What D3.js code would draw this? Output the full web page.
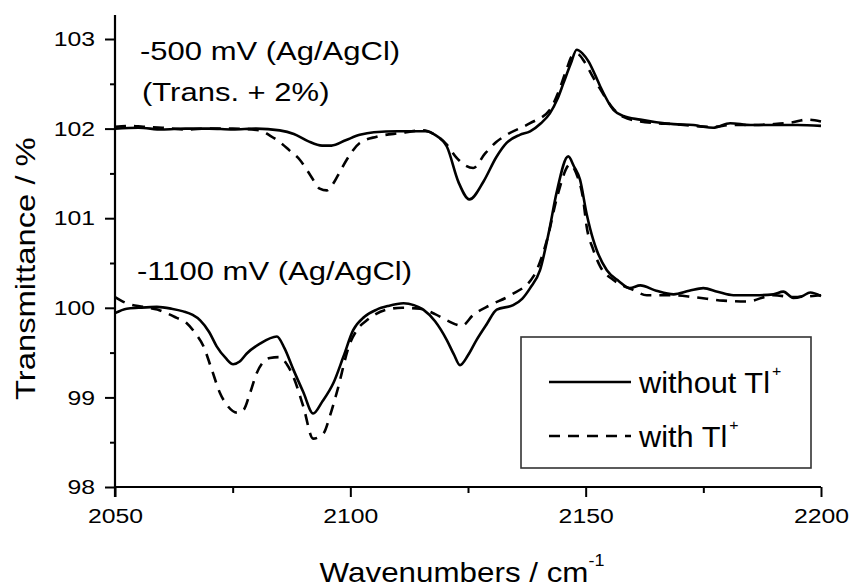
<!DOCTYPE html>
<html>
<head>
<meta charset="utf-8">
<script src="https://cdn.jsdelivr.net/npm/d3@7"></script>
<style>
  html, body { margin: 0; padding: 0; background: #fff; }
  svg { display: block; }
  text { font-family: "Liberation Sans", Arial, sans-serif; fill: #000; }
</style>
</head>
<body>
<svg id="chart" width="851" height="587"></svg>
<script>
// ---- Data ----
const xTicks = [2050, 2100, 2150, 2200];
const xMinorTicks = [2075, 2125, 2175];
const yTicks = [98, 99, 100, 101, 102, 103];
const yMinorTicks = [98.5, 99.5, 100.5, 101.5, 102.5];

// -500 mV (Trans. + 2%), without Tl+
const topSolidWn = [2050,2055,2060,2065,2070,2075,2080,2085,2088,2091,2094,2096,2099,2102,2105,2110,2116,2118,2120.5,2123,2125.3,2128.3,2131,2133.2,2136,2138.2,2140.5,2142.4,2144,2145.3,2146.8,2148.1,2149.3,2150.6,2152,2153.1,2155.9,2158,2161.6,2165,2168.7,2172.9,2175,2177.1,2180.7,2185,2189.9,2195,2200];
const topSolidT = [102.00,102.01,101.99,102.00,102.00,101.99,102.00,101.98,101.94,101.86,101.81,101.81,101.87,101.93,101.96,101.97,101.97,101.93,101.80,101.40,101.21,101.41,101.68,101.84,101.93,101.97,102.06,102.17,102.33,102.51,102.72,102.88,102.84,102.75,102.60,102.47,102.21,102.14,102.10,102.07,102.05,102.04,102.02,102.01,102.06,102.04,102.04,102.04,102.03];

// -500 mV (Trans. + 2%), with Tl+
const topDashedWn = [2050,2053,2056,2060,2065,2070,2075,2080.8,2083,2085,2087,2089.3,2091.5,2093.5,2095,2096.4,2097.8,2099.2,2102,2105.6,2110.6,2115.5,2118,2120.5,2122.5,2124.4,2126.1,2128.6,2131,2133.2,2138.2,2142.4,2144.3,2145.8,2147.3,2148.3,2149.8,2151.5,2153.1,2155.9,2158,2161.6,2165,2168.7,2173,2177,2181,2185,2190,2194,2197,2200];
const topDashedT = [102.02,102.03,102.02,102.01,101.99,102.00,102.00,101.98,101.92,101.85,101.76,101.65,101.48,101.33,101.31,101.39,101.52,101.65,101.84,101.91,101.95,101.98,101.93,101.82,101.68,101.59,101.56,101.72,101.85,101.93,102.06,102.21,102.42,102.64,102.82,102.83,102.74,102.58,102.44,102.22,102.13,102.08,102.06,102.05,102.03,102.02,102.04,102.04,102.05,102.07,102.10,102.08];

// -1100 mV, without Tl+
const botSolidWn = [2050,2052.5,2055,2058.9,2062,2064.5,2066.5,2068.1,2070,2071.6,2073.5,2075.1,2076.5,2078,2080.8,2084.4,2086,2087.9,2090,2092.1,2094,2096.4,2098.5,2100.6,2103,2105.6,2108,2111.3,2113.5,2115.5,2118,2120.5,2122,2123.3,2125,2126.8,2129,2131.1,2134.6,2136.5,2138.2,2140.3,2142.2,2143.8,2146.3,2147.5,2148.8,2150.2,2151.6,2152.3,2154.5,2157,2159.4,2161.6,2165,2168.7,2172,2175,2178,2181.4,2186,2189.9,2192,2194.1,2196,2197.7,2200];
const botSolidT = [99.94,99.99,100.00,100.01,99.99,99.96,99.92,99.86,99.73,99.57,99.44,99.37,99.40,99.49,99.60,99.68,99.55,99.31,99.06,98.82,98.95,99.16,99.45,99.75,99.90,99.98,100.02,100.05,100.03,99.98,99.85,99.64,99.48,99.36,99.47,99.64,99.82,99.98,100.03,100.10,100.22,100.42,100.85,101.28,101.69,101.58,101.43,101.05,100.76,100.65,100.42,100.30,100.22,100.25,100.19,100.15,100.19,100.22,100.18,100.14,100.14,100.15,100.18,100.11,100.13,100.17,100.13];

// -1100 mV, with Tl+
const botDashedWn = [2050,2052.5,2056,2059,2061,2063,2065.2,2067,2068.8,2070.5,2072.3,2074,2075.9,2077.3,2078.7,2080.1,2082.9,2085,2086.5,2087.9,2090,2092.1,2094.3,2095.7,2097.1,2099.9,2101.5,2103.5,2107.7,2111,2114.8,2118,2120.5,2123.7,2126.1,2129.7,2134,2138.9,2141.8,2144,2146.7,2148,2149.5,2150.2,2151.6,2153.1,2155.9,2160.1,2163,2168,2172.9,2179.2,2184.2,2189.9,2194,2200];
const botDashedT = [100.12,100.05,100.01,99.98,99.94,99.89,99.83,99.72,99.57,99.32,99.05,98.90,98.83,98.86,99.05,99.27,99.44,99.45,99.37,99.23,98.90,98.54,98.60,98.80,99.05,99.60,99.76,99.86,99.98,100.00,99.99,99.93,99.86,99.80,99.92,100.03,100.14,100.35,100.76,101.25,101.60,101.50,101.20,100.91,100.65,100.46,100.31,100.20,100.14,100.14,100.12,100.08,100.07,100.14,100.12,100.14];

const legendLabels = ["without Tl", "with Tl"];

// ---- Layout ----
const svg = d3.select("#chart");
const x = d3.scaleLinear().domain([2050, 2200]).range([115, 821]);
const y = d3.scaleLinear().domain([98, 103]).range([487, 39]);
const yTop = y.invert(15);

const FONT = '"Liberation Sans", Arial, sans-serif';
const TICK_SX = 1.18;

// X axis
const xAxis = d3.axisBottom(x).tickValues(xTicks).tickSize(10).tickSizeOuter(0).tickPadding(11)
  .tickFormat(d3.format("d"));
const gx = svg.append("g").attr("transform", `translate(0,${y(98)})`).call(xAxis);
gx.select(".domain").remove();
gx.selectAll(".tick line").attr("stroke", "#000").attr("stroke-width", 2);
gx.selectAll("text").attr("font-size", 21).attr("font-family", FONT)
  .attr("transform", `scale(${TICK_SX},1)`);

const gxm = svg.append("g").attr("transform", `translate(0,${y(98)})`)
  .call(d3.axisBottom(x).tickValues(xMinorTicks).tickSize(6).tickFormat(""));
gxm.select(".domain").remove();
gxm.selectAll(".tick line").attr("stroke", "#000").attr("stroke-width", 2);

svg.append("line").attr("x1", x(2050)).attr("x2", x(2200)).attr("y1", y(98)).attr("y2", y(98))
  .attr("stroke", "#000").attr("stroke-width", 2.2);

// Y axis
const yAxis = d3.axisLeft(y).tickValues(yTicks).tickSize(10).tickSizeOuter(0).tickPadding(10)
  .tickFormat(d3.format("d"));
const gy = svg.append("g").attr("transform", `translate(${x(2050)},0)`).call(yAxis);
gy.select(".domain").remove();
gy.selectAll(".tick line").attr("stroke", "#000").attr("stroke-width", 2);
gy.selectAll("text").attr("font-size", 21).attr("font-family", FONT)
  .attr("x", -20 / TICK_SX).attr("transform", `scale(${TICK_SX},1)`);

const gym = svg.append("g").attr("transform", `translate(${x(2050)},0)`)
  .call(d3.axisLeft(y).tickValues(yMinorTicks).tickSize(5).tickFormat(""));
gym.select(".domain").remove();
gym.selectAll(".tick line").attr("stroke", "#000").attr("stroke-width", 2);

svg.append("line").attr("x1", x(2050)).attr("x2", x(2050)).attr("y1", y(yTop)).attr("y2", y(98) + 10)
  .attr("stroke", "#000").attr("stroke-width", 2.2);

// Spectra
const line = d3.line().x(d => x(d[0])).y(d => y(d[1])).curve(d3.curveMonotoneX);
const series = [
  { wn: topSolidWn, t: topSolidT, dash: null },
  { wn: topDashedWn, t: topDashedT, dash: "11,8" },
  { wn: botSolidWn, t: botSolidT, dash: null },
  { wn: botDashedWn, t: botDashedT, dash: "11,8" }
];
series.forEach(s => {
  svg.append("path")
    .datum(s.wn.map((w, i) => [w, s.t[i]]))
    .attr("d", line)
    .attr("fill", "none")
    .attr("stroke", "#000")
    .attr("stroke-width", 2.6)
    .attr("stroke-linejoin", "round")
    .attr("stroke-dasharray", s.dash);
});

// Annotations
function wideText(tx, ty, str, size, sx) {
  return svg.append("g").attr("transform", `translate(${tx},${ty}) scale(${sx},1)`)
    .append("text").attr("font-size", size).attr("font-family", FONT).text(str);
}
wideText(140, 60, "-500 mV (Ag/AgCl)", 25, 1.24);
wideText(142, 101, "(Trans. + 2%)", 25, 1.24);
wideText(137, 280, "-1100 mV (Ag/AgCl)", 25, 1.24);

// Axis titles
svg.append("g").attr("transform", `translate(462,582) scale(1.12,1)`)
  .append("text").attr("text-anchor", "middle").attr("font-size", 28).attr("font-family", FONT)
  .call(t => {
    t.append("tspan").text("Wavenumbers / cm");
    t.append("tspan").attr("font-size", 16).attr("dy", -16).text("-1");
  });

svg.append("g").attr("transform", `translate(35,400) rotate(-90) scale(1.17,1)`)
  .append("text").attr("text-anchor", "start").attr("font-size", 28).attr("font-family", FONT)
  .text("Transmittance / %");

// Legend
svg.append("rect").attr("x", 521).attr("y", 337).attr("width", 290).attr("height", 131)
  .attr("fill", "#fff").attr("stroke", "#333").attr("stroke-width", 1.6);
const legendDash = [null, "11,8"];
const legendY = [382, 436];
legendLabels.forEach((lab, i) => {
  svg.append("line").attr("x1", 549).attr("x2", 631).attr("y1", legendY[i]).attr("y2", legendY[i])
    .attr("stroke", "#000").attr("stroke-width", 2.6).attr("stroke-dasharray", legendDash[i]);
  svg.append("g").attr("transform", `translate(639,${legendY[i] + 11}) scale(1.06,1)`)
    .append("text").attr("font-size", 29).attr("font-family", FONT)
    .call(t => {
      t.append("tspan").text(lab);
      t.append("tspan").attr("font-size", 15).attr("dy", -17).attr("dx", 2).text("+");
    });
});
</script>
</body>
</html>
